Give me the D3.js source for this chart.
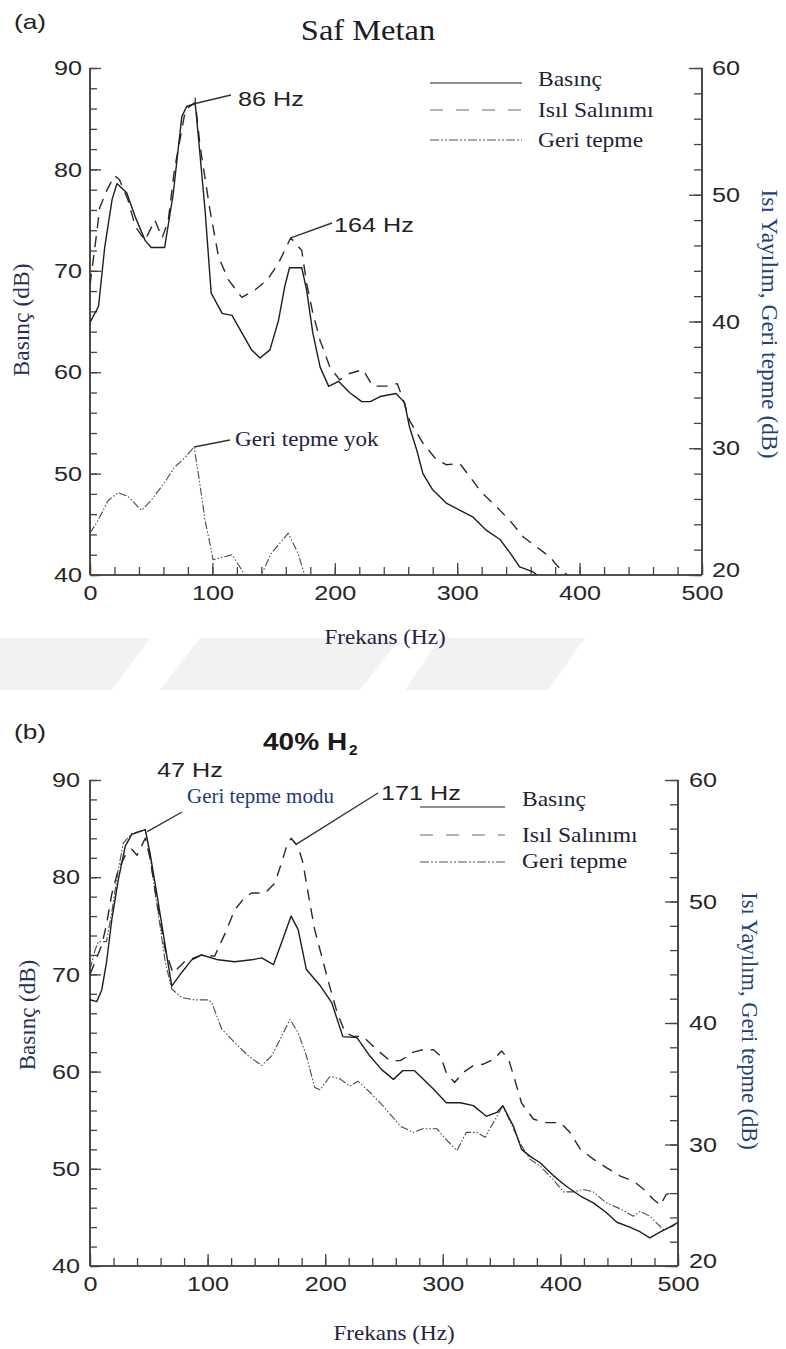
<!DOCTYPE html>
<html>
<head>
<meta charset="utf-8">
<script src="https://cdn.jsdelivr.net/npm/d3@7"></script>
<style>
  html, body { margin: 0; padding: 0; background: #fff; }
  svg { display: block; }
</style>
</head>
<body>
<div id="chart"></div>
<script>
// ---------------- data ----------------
const freqTicks = [0, 100, 200, 300, 400, 500];
const pressureTicks = [40, 50, 60, 70, 80, 90];
const heatTicks = [20, 30, 40, 50, 60];

// (a) Saf Metan — pressure on left axis, heat release / rebound on right axis
const a_pressureHz = [0,7,12,18,22,30,37,45,50,61,68,75,79,86,89,94,99,108,116,124,132,139,147,154,159,163,173,177,182,188,195,203,212,222,229,237,250,257,261,267,272,280,291,302,313,324,335,343,351,362,365];
const a_pressureDb = [64.9,66.5,72.3,77.0,78.6,77.7,75.3,73.0,72.3,72.3,77.6,85.2,86.2,86.5,82.6,76.0,67.8,65.8,65.6,63.9,62.2,61.4,62.2,65.1,68.4,70.3,70.3,68.1,63.9,60.5,58.6,59.1,58.0,57.1,57.1,57.6,57.9,57.0,54.6,52.3,50.0,48.4,47.1,46.4,45.7,44.4,43.5,42.2,40.8,40.3,40.0];

const a_heatHz = [0,5.5,8,14,20,24,31,37,45,53,59,64,69,78,86,90,98,105,113,124,135,145,154,161,164,173,177,182,188,196,204,212,223,231,242,251,256,261,272,283,291,302,310,320,332,343,354,365,376,382,390];
const a_heatDb = [42.9,47.0,49.0,50.4,51.5,51.2,49.6,47.5,46.4,48.0,46.6,48.0,52.0,56.7,57.3,53.8,48.8,45.1,43.3,41.9,42.5,43.3,44.6,46.0,46.6,45.6,43.0,40.7,38.5,36.4,35.4,35.9,36.2,34.9,34.9,35.1,33.8,32.2,30.4,29.1,28.7,28.8,27.8,26.5,25.4,24.3,23.0,22.2,21.4,20.7,20.0];

const a_reboundHz = [0,6.5,15,23,31,42,50,61,69,78,85,89,94,99,100.5,108,116,124,129,135,139,148,162,170,176,178];
const a_reboundDb = [23.3,24.3,25.9,26.5,26.2,25.1,25.9,27.3,28.5,29.3,30.1,27.7,24.3,22.0,21.2,21.4,21.6,20.4,19.6,19.2,19.8,21.7,23.3,21.7,19.8,18.8];

// (b) 40% H2
const b_pressureHz = [0,5.7,10,14,18.5,24,30,35.5,47,51,56.7,64,69.5,78,86.5,95,109,123,137.5,146,156,163,171,177,184,196,205.5,215,227,238,248,258,266,276,292,303,315,326,337,346,351,360,367,374,383,394,405,417,428,439,448,459,468,476,485,493,500];
const b_pressureDb = [67.4,67.2,68.4,71.2,75.6,79.7,83.2,84.4,84.9,82.5,78.4,72.9,68.8,70.2,71.5,72.0,71.5,71.3,71.5,71.7,71.0,73.3,76.0,74.6,70.5,68.8,67.1,63.6,63.5,61.6,60.2,59.2,60.1,60.1,58.2,56.8,56.8,56.5,55.4,55.8,56.5,54.4,52.0,51.3,50.6,49.3,48.2,47.2,46.5,45.5,44.5,44.0,43.5,42.9,43.5,44.0,44.5];

const b_heatHz = [0,5,10,14,18.5,24,30,35.5,40,47,51,56.7,64,70.6,81,95,106,115,123,132,137.5,149,157,163,167,171,177,181,186,191,197,203,210,217,224,232,244,255,264,275,283,292,298,303,310,317,326,334,343,350,356,361,367,377,386,400,408,417,428,439,451,462,471,479,485,490,500];
const b_heatDb = [44.0,45.2,46.4,48.1,50.6,52.6,53.8,54.3,53.8,55.2,53.6,50.1,46.0,44.1,45.1,45.6,45.5,47.4,49.3,50.4,50.7,50.7,51.5,53.2,54.5,55.2,54.5,53.2,50.4,47.7,45.5,43.3,40.9,39.2,38.9,38.9,37.8,36.9,36.9,37.6,37.8,37.8,37.3,35.9,35.1,35.9,36.5,36.6,37.0,37.7,37.0,35.4,33.4,32.1,31.8,31.8,31.0,29.6,28.8,28.1,27.4,27.0,26.3,25.5,25.0,25.9,26.1];

const b_reboundHz = [0,4.3,7,14,18.5,24,28.3,35.5,47,51,56.7,64,69.5,78,89,100.6,103.5,112,123,134.6,146,154.5,163,170,177,184,191,195.6,204,212.6,221,228,238,249,264,275,283,295,303,312,320,329,336,343,351,360,367,374,383,394,402.5,411,419.5,428,439,451,462,468,476,487.5,496,500];
const b_reboundDb = [44.4,46.0,46.7,46.7,49.1,52.6,54.8,55.6,55.9,53.7,49.9,45.0,42.8,42.1,41.9,41.9,41.7,39.5,38.4,37.3,36.5,37.3,38.9,40.3,39.2,37.3,34.7,34.5,35.6,35.4,34.8,35.2,34.3,33.2,31.5,31.0,31.3,31.3,30.4,29.5,31.0,31.0,30.6,31.8,33.2,31.3,29.9,28.8,28.2,27.1,26.1,26.1,26.3,26.1,25.2,24.7,24.1,24.5,24.1,23.0,23.3,23.6];

const legendLabels = ["Basınç", "Isıl Salınımı", "Geri tepme"];

// ---------------- drawing ----------------
const W = 786, H = 1349;
const svg = d3.select("#chart").append("svg").attr("width", W).attr("height", H);

const SANS = "'Liberation Sans', Arial, Helvetica, sans-serif";
const SERIF = "'Liberation Serif', 'Times New Roman', serif";
const INK = "#222";

const styles = {
  pressure: { stroke: "#1e1e1e", width: 1.4, dash: null },
  heat:     { stroke: "#2a2a2a", width: 1.4, dash: "11,8" },
  rebound:  { stroke: "#4a4a4a", width: 1.1, dash: "8,2,1.5,2,1.5,2" }
};

// faint diagonal watermark band between the two panels
const wm = [
  [[0,638],[150,638],[112,690],[0,690]],
  [[200,638],[400,638],[360,690],[160,690]],
  [[440,638],[585,638],[548,690],[405,690]]
];
svg.append("g").selectAll("polygon").data(wm).join("polygon")
  .attr("points", d => d.map(p => p.join(",")).join(" "))
  .attr("fill", "#f2f2f2");

function label(g, x, y, text, o = {}) {
  return g.append("text")
    .attr("transform", `translate(${x},${y}) scale(${o.sx || 1},1)`)
    .attr("font-family", o.family || SANS)
    .attr("font-size", o.size || 21)
    .attr("font-weight", o.weight || "normal")
    .attr("text-anchor", o.anchor || "start")
    .attr("fill", o.fill || INK)
    .text(text);
}

function stretchTicks(sel, sx) {
  sel.selectAll(".tick text").each(function () {
    const t = d3.select(this);
    const x = +t.attr("x") || 0;
    t.attr("x", 0).attr("transform", `translate(${x},0) scale(${sx},1)`);
  });
}

function zip(xs, ys) { return xs.map((x, i) => [x, ys[i]]); }

function drawPanel(p) {
  const g = svg.append("g");
  const x = d3.scaleLinear().domain([0, 500]).range([p.left, p.right]);
  const yL = d3.scaleLinear().domain([40, 90]).range([p.bottom, p.top]);
  const yR = d3.scaleLinear().domain([20, 60]).range([p.bottom, p.top]);

  const clipId = "clip-" + p.id;
  g.append("clipPath").attr("id", clipId).append("rect")
    .attr("x", p.left).attr("y", p.top - 20)
    .attr("width", p.right - p.left).attr("height", p.bottom - p.top + 20);

  const axisColor = "#444";
  // left axis (pressure)
  const gl = g.append("g").attr("transform", `translate(${p.left},0)`);
  gl.call(d3.axisLeft(yL).tickValues(d3.range(40, 90.1, 2)).tickSize(-7).tickFormat(""));
  const glMaj = g.append("g").attr("transform", `translate(${p.left},0)`)
    .call(d3.axisLeft(yL).tickValues(pressureTicks).tickSize(-11).tickPadding(p.lPad));
  // right axis (heat release / rebound)
  const gr = g.append("g").attr("transform", `translate(${p.right},0)`);
  gr.call(d3.axisRight(yR).tickValues(d3.range(20, 60.1, 2)).tickSize(-8).tickFormat(""));
  const grMaj = g.append("g").attr("transform", `translate(${p.right},0)`)
    .call(d3.axisRight(yR).tickValues(heatTicks).tickSize(-13).tickPadding(p.rPad));
  // bottom axis (frequency)
  const gb = g.append("g").attr("transform", `translate(0,${p.bottom})`);
  gb.call(d3.axisBottom(x).tickValues(d3.range(0, 500.1, 20)).tickSize(-8).tickFormat(""));
  const gbMaj = g.append("g").attr("transform", `translate(0,${p.bottom})`)
    .call(d3.axisBottom(x).tickValues(freqTicks).tickSize(-12).tickPadding(p.bPad));

  [gl, glMaj, gr, grMaj, gb, gbMaj].forEach(a => {
    a.select(".domain").attr("stroke", axisColor).attr("stroke-width", 1.6);
    a.selectAll(".tick line").attr("stroke", axisColor).attr("stroke-width", 1.3);
    a.selectAll(".tick text").attr("font-family", SANS).attr("font-size", 21).attr("fill", "#262626");
  });
  [gb, gbMaj].forEach(a => a.select(".domain").attr("d", `M${p.left},0H${p.right}`));
  [gl, glMaj, gr, grMaj].forEach(a => a.select(".domain").attr("d", `M0,${p.top}V${p.bottom}`));
  // lowest right-axis label sits a little higher, clear of the "500" below it
  grMaj.selectAll(".tick text").filter(d => d === 20).attr("dy", "0.08em");
  stretchTicks(glMaj, 1.2);
  stretchTicks(grMaj, 1.2);
  stretchTicks(gbMaj, 1.2);

  // series
  const lineL = d3.line().x(d => x(d[0])).y(d => yL(d[1]));
  const lineR = d3.line().x(d => x(d[0])).y(d => yR(d[1]));
  const series = [
    { data: zip(p.pressureHz, p.pressureDb), gen: lineL, s: styles.pressure },
    { data: zip(p.heatHz, p.heatDb), gen: lineR, s: styles.heat },
    { data: zip(p.reboundHz, p.reboundDb), gen: lineR, s: styles.rebound }
  ];
  const gs = g.append("g").attr("clip-path", `url(#${clipId})`);
  series.slice().reverse().forEach(se => {
    gs.append("path").datum(se.data).attr("d", se.gen)
      .attr("fill", "none").attr("stroke", se.s.stroke)
      .attr("stroke-width", se.s.width).attr("stroke-linejoin", "round")
      .attr("stroke-dasharray", se.s.dash);
  });

  // legend
  const lg = g.append("g");
  const legStyles = [
    { stroke: "#6a6a6a", width: 1.5, dash: null },
    { stroke: "#9a9a9a", width: 1.6, dash: "13,13" },
    { stroke: "#8a8a8a", width: 1.4, dash: "9,2,2,2,2,2" }
  ];
  legendLabels.forEach((t, i) => {
    lg.append("line")
      .attr("x1", p.legend.x1).attr("x2", p.legend.x2)
      .attr("y1", p.legend.lineY[i]).attr("y2", p.legend.lineY[i])
      .attr("stroke", legStyles[i].stroke).attr("stroke-width", legStyles[i].width)
      .attr("stroke-dasharray", legStyles[i].dash);
    label(lg, p.legend.tx, p.legend.textY[i], t,
      { family: SERIF, size: 21, sx: 1.12, fill: "#1f2236" });
  });

  // axis titles
  label(g, p.xTitle[0], p.xTitle[1], "Frekans (Hz)",
    { family: SERIF, size: 21, sx: 1.1, anchor: "middle", fill: "#1f2440" });
  g.append("text")
    .attr("transform", `translate(${p.lTitle[0]},${p.lTitle[1]}) rotate(-90)`)
    .attr("font-family", SERIF).attr("font-size", p.lTitle[2])
    .attr("text-anchor", "middle").attr("fill", "#28305a")
    .text("Basınç (dB)");
  g.append("text")
    .attr("transform", `translate(${p.rTitle[0]},${p.rTitle[1]}) rotate(90)`)
    .attr("font-family", SERIF).attr("font-size", p.rTitle[2])
    .attr("text-anchor", "middle").attr("fill", "#234079")
    .text("Isı Yayılım, Geri tepme (dB)");

  return { g, x, yL, yR };
}

function leader(g, x1, y1, x2, y2) {
  g.append("line").attr("x1", x1).attr("y1", y1).attr("x2", x2).attr("y2", y2)
    .attr("stroke", "#333").attr("stroke-width", 1.4);
}

// ---- panel (a)
const A = drawPanel({
  id: "a", left: 90, right: 702, top: 68, bottom: 575,
  lPad: 8, rPad: 10, bPad: 10,
  pressureHz: a_pressureHz, pressureDb: a_pressureDb,
  heatHz: a_heatHz, heatDb: a_heatDb,
  reboundHz: a_reboundHz, reboundDb: a_reboundDb,
  legend: { x1: 430, x2: 522, lineY: [83, 110, 140], tx: 538, textY: [86, 117, 147] },
  xTitle: [385, 644], lTitle: [29, 320, 23.5], rTitle: [762, 324, 23.5]
});
label(A.g, 14, 29, "(a)", { size: 21, sx: 1.25 });
label(A.g, 368, 40, "Saf Metan", { family: SERIF, size: 29, sx: 1.12, anchor: "middle", fill: "#1a1a28" });
{
  const i86 = a_pressureHz.indexOf(86);
  const px = A.x(86), py = A.yL(a_pressureDb[i86]);
  leader(A.g, px, py, 231, 95);
  A.g.append("line").attr("x1", px).attr("x2", px).attr("y1", py - 6).attr("y2", py + 4)
    .attr("stroke", "#333").attr("stroke-width", 1.2);
  label(A.g, 238, 106, "86 Hz", { size: 21, sx: 1.2 });

  const i164 = a_heatHz.indexOf(164);
  leader(A.g, A.x(164), A.yR(a_heatDb[i164]), 332, 223);
  label(A.g, 334, 232, "164 Hz", { size: 21, sx: 1.2 });

  const i85 = a_reboundHz.indexOf(85);
  leader(A.g, A.x(85), A.yR(a_reboundDb[i85]), 230, 440);
  label(A.g, 235, 446, "Geri tepme yok", { family: SERIF, size: 21, sx: 1.1, fill: "#1f2440" });
}

// ---- panel (b)
const B = drawPanel({
  id: "b", left: 90, right: 678, top: 780, bottom: 1266,
  lPad: 10, rPad: 11, bPad: 10,
  pressureHz: b_pressureHz, pressureDb: b_pressureDb,
  heatHz: b_heatHz, heatDb: b_heatDb,
  reboundHz: b_reboundHz, reboundDb: b_reboundDb,
  legend: { x1: 420, x2: 505, lineY: [807, 835, 862], tx: 522, textY: [806, 842, 868] },
  xTitle: [394, 1340], lTitle: [35, 1015, 23], rTitle: [742, 1021, 22.5]
});
label(B.g, 14, 739, "(b)", { size: 21, sx: 1.25 });
{
  label(B.g, 263, 750, "40% H", { size: 23, sx: 1.22, weight: "bold", fill: "#1a1a1a" });
  label(B.g, 349, 755, "2", { size: 14, sx: 1.1, weight: "bold", fill: "#1a1a1a" });

  const i47 = b_pressureHz.indexOf(47);
  leader(B.g, B.x(47) + 2, B.yL(b_pressureDb[i47]) + 2, 182, 812);
  label(B.g, 157, 777, "47 Hz", { size: 21, sx: 1.2 });
  label(B.g, 187, 803, "Geri tepme modu", { family: SERIF, size: 20, sx: 1.05, fill: "#22387a" });

  const i171 = b_heatHz.indexOf(171);
  const hx = B.x(171), hy = B.yR(b_heatDb[i171]);
  leader(B.g, hx + 5, hy + 6, 378, 793);
  B.g.append("line").attr("x1", hx).attr("y1", hy).attr("x2", hx + 5).attr("y2", hy + 6)
    .attr("stroke", "#333").attr("stroke-width", 1.2);
  label(B.g, 381, 800, "171 Hz", { size: 21, sx: 1.2 });
}
</script>
</body>
</html>
